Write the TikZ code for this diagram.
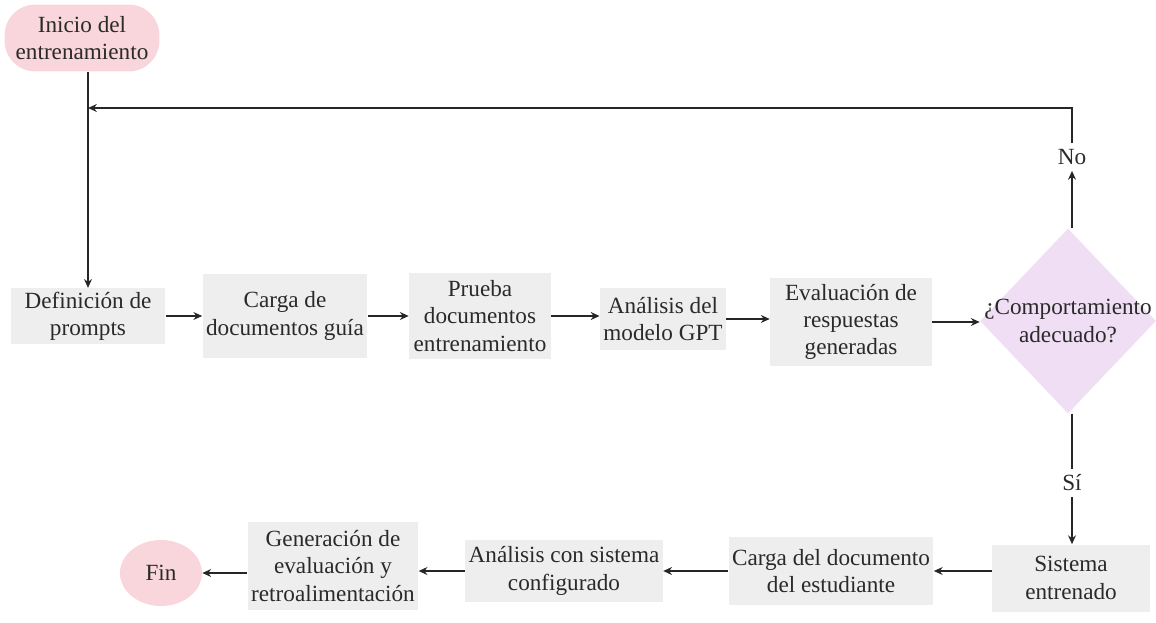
\documentclass[tikz,border=0pt]{standalone}
\usepackage{fontspec}
\setmainfont{Liberation Serif}
\newfontfamily\letra{Liberation Serif}
\usetikzlibrary{shapes.geometric,arrows.meta}
\definecolor{cajagris}{HTML}{EEEEEE}
\definecolor{rosa}{HTML}{F9D6DB}
\definecolor{lila}{HTML}{F0DEF5}
\definecolor{texto}{HTML}{2A2A2A}
\begin{document}
\begin{tikzpicture}[x=0.02cm,y=-0.02cm,
		font=\letra\fontsize{13.2}{15.5}\selectfont, text=texto,
		caja/.style={fill=cajagris, align=center, inner sep=2pt},
		extremo/.style={fill=rosa, align=center, inner sep=2pt},
		flecha/.style={-{Stealth[length=5pt,width=4.5pt]}, line width=1pt, draw=black!85}]
			\useasboundingbox (0,0) rectangle (1156,622);
			% fila superior
			\node[extremo, rounded corners=0.62cm, minimum width=3.1cm, minimum height=1.34cm] (inicio) at (82,38) {Inicio del\\entrenamiento};
			\node[caja, minimum width=3.1cm, minimum height=1.06cm] (def) at (88,316) {Definición de\\prompts};
			\node[caja, minimum width=3.08cm, minimum height=1.7cm] (carga) at (285,316) {Carga de\\documentos guía};
			\node[caja, minimum width=2.84cm, minimum height=1.72cm] (prueba) at (480,316) {Prueba\\documentos\\entrenamiento};
			\node[caja, minimum width=2.4cm, minimum height=1.24cm] (analisis) at (663,319) {Análisis del\\modelo GPT};
			\node[caja, minimum width=3.24cm, minimum height=1.78cm] (eval) at (851,322) {Evaluación de\\respuestas\\generadas};
			\node[diamond, fill=lila, inner sep=0pt, minimum width=3.52cm, minimum height=3.7cm,
				label={[align=center, text=texto, font=\letra\fontsize{13.2}{15.5}\selectfont]center:¿Comportamiento\\adecuado?}] (dec) at (1068,321) {};
			\node[] (no) at (1072,157) {No};
			\node[] (si) at (1072,483) {Sí};
			\coordinate (union) at (88,108);
			% fila inferior
			\node[caja, minimum width=3.16cm, minimum height=1.34cm] (sis) at (1071,578) {Sistema\\entrenado};
			\node[caja, minimum width=3.98cm, minimum height=1.36cm] (cargadoc) at (831,571) {Carga del documento\\del estudiante};
			\node[caja, minimum width=3.84cm, minimum height=1.24cm] (ancon) at (564,571) {Análisis con sistema\\configurado};
			\node[caja, minimum width=3.36cm, minimum height=1.76cm] (gen) at (333,566) {Generación de\\evaluación y\\retroalimentación};
			\node[extremo, ellipse, minimum width=1.64cm, minimum height=1.32cm] (fin) at (161,573) {Fin};
			% conectores
			\draw[flecha] (inicio.south -| def.north) -- (def.north);
			\draw[flecha] (def.east) -- (def.east -| carga.west);
			\draw[flecha] (carga.east) -- (carga.east -| prueba.west);
			\draw[flecha] (prueba.east) -- (prueba.east -| analisis.west);
			\draw[flecha] (analisis.east) -- (analisis.east -| eval.west);
			\draw[flecha] (eval.east) -- (eval.east -| dec.west);
			\draw[flecha] (dec.north -| no) -- (no.south);
			\draw[flecha] (no.north) |- (union);
			\draw[line width=1pt, draw=black!85] (dec.south -| si) -- (si.north);
			\draw[flecha] (si.south) -- (sis.north -| si);
			\draw[flecha] (cargadoc.east -| sis.west) -- (cargadoc.east);
			\draw[flecha] (cargadoc.west) -- (cargadoc.west -| ancon.east);
			\draw[flecha] (ancon.west) -- (ancon.west -| gen.east);
			\draw[flecha] (fin.east -| gen.west) -- (fin.east);
		\end{tikzpicture}
\end{document}
